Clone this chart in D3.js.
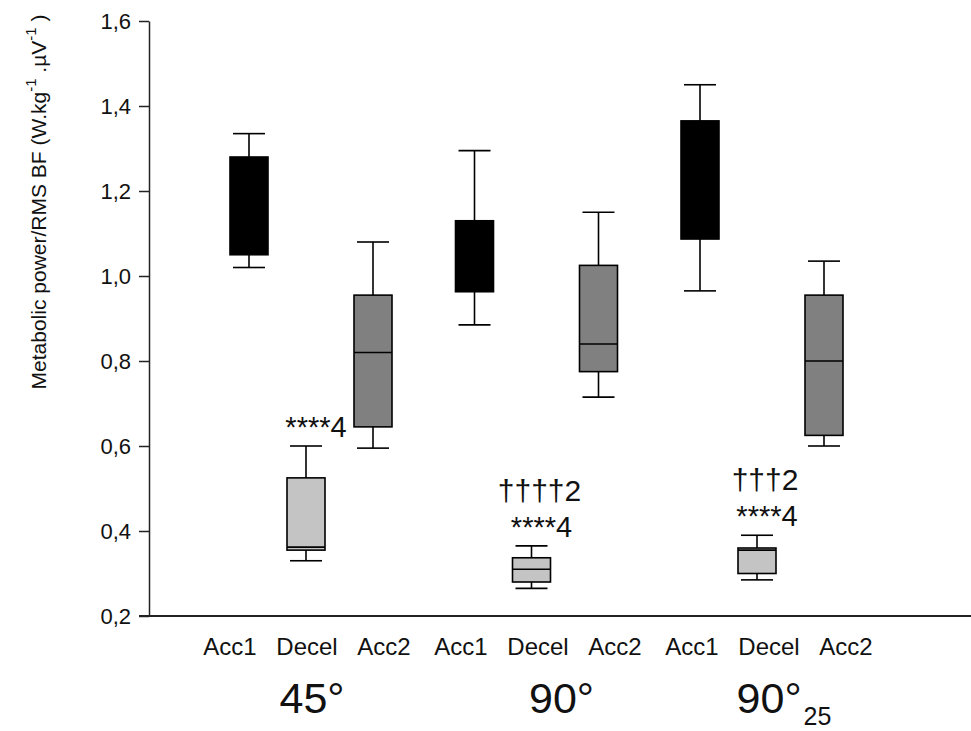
<!DOCTYPE html>
<html lang="en">
<head>
    <meta charset="UTF-8" />
    <title>Metabolic power / RMS BF</title>
    <script src="https://d3js.org/d3.v7.min.js"></script>
    <style>
        body { margin: 0; background: #fff; }
        text { font-family: "Liberation Sans", Arial, sans-serif; fill: #111; }
    </style>
</head>
<body>
    <div id="chart"></div>

    <script>
        // data
        const groups = ["45°", "90°", "90°25"]
        const phases = ["Acc1", "Decel", "Acc2"]

        // one value per box, order: 45° Acc1, Decel, Acc2, 90° ..., 90°25 ...
        const whiskerLow  = [1.02, 0.33, 0.595, 0.885, 0.265, 0.715, 0.965, 0.285, 0.60]
        const q1          = [1.05, 0.355, 0.645, 0.963, 0.28, 0.775, 1.087, 0.30, 0.625]
        const median      = [1.17, 0.362, 0.82, 1.04, 0.31, 0.84, 1.20, 0.355, 0.80]
        const q3          = [1.28, 0.525, 0.955, 1.13, 0.337, 1.025, 1.365, 0.36, 0.955]
        const whiskerHigh = [1.335, 0.60, 1.08, 1.295, 0.365, 1.15, 1.45, 0.39, 1.035]

        const yTicks = [0.2, 0.4, 0.6, 0.8, 1.0, 1.2, 1.4, 1.6]

        // significance marks over the Decel boxes (top line first)
        const marksGroup = ["45°", "90°", "90°25"]
        const marksDagger = ["", "††††2", "†††2"]
        const marksStar = ["****4", "****4", "****4"]

        const boxes = []
        groups.forEach((g, gi) => phases.forEach((p, pi) => {
            const i = gi * 3 + pi
            boxes.push({ group: g, phase: p, lo: whiskerLow[i], q1: q1[i], med: median[i], q3: q3[i], hi: whiskerHigh[i] })
        }))

        const width = 971
        const height = 731
        const axisX = 149
        const axisY = 616

        const fills = { Acc1: "#000000", Decel: "#c4c4c4", Acc2: "#808080" }

        const y = d3.scaleLinear()
            .domain([0.2, 1.6])
            .range([axisY, 21])

        // group centre = Decel box, Acc boxes offset around it
        const gx = d3.scalePoint()
            .domain(groups)
            .range([306, 757])
        const inner = d3.scaleOrdinal()
            .domain(phases)
            .range([-57, 0, 67])
        const boxX = d => gx(d.group) + inner(d.phase)

        const boxW = 38
        const capW = 32

        const svg = d3.select("#chart").append("svg")
            .attr("width", width)
            .attr("height", height)
            .attr("viewBox", [0, 0, width, height])

        // y axis
        svg.append("g")
            .attr("transform", `translate(${axisX},0)`)
            .call(d3.axisLeft(y)
                .tickValues(yTicks)
                .tickFormat(d => d3.format(".1f")(d).replace(".", ","))
                .tickSize(10)
                .tickPadding(8)
                .tickSizeOuter(0))
            .call(g => g.select(".domain").attr("stroke", "#222").attr("stroke-width", 1.5))
            .call(g => g.selectAll(".tick line").attr("stroke", "#222").attr("stroke-width", 1.5))
            .call(g => g.selectAll(".tick text")
                .attr("font-size", 22)
                .attr("font-family", "Liberation Sans, Arial, sans-serif")
                .attr("fill", "#111"))

        // bottom axis line
        svg.append("line")
            .attr("x1", axisX - 10)
            .attr("x2", width)
            .attr("y1", axisY)
            .attr("y2", axisY)
            .attr("stroke", "#222")
            .attr("stroke-width", 2)

        const box = svg.append("g")
            .attr("stroke", "#000")
            .attr("stroke-width", 1.6)
            .selectAll("g")
            .data(boxes)
            .join("g")

        // whisker stems
        box.append("line")
            .attr("x1", boxX).attr("x2", boxX)
            .attr("y1", d => y(d.hi)).attr("y2", d => y(d.lo))

        // caps
        box.selectAll(".cap")
            .data(d => [d.lo, d.hi].map(v => ({ x: boxX(d), v })))
            .join("line")
            .attr("class", "cap")
            .attr("x1", d => d.x - capW / 2).attr("x2", d => d.x + capW / 2)
            .attr("y1", d => y(d.v)).attr("y2", d => y(d.v))

        box.append("rect")
            .attr("x", d => boxX(d) - boxW / 2)
            .attr("width", boxW)
            .attr("y", d => y(d.q3))
            .attr("height", d => y(d.q1) - y(d.q3))
            .attr("fill", d => fills[d.phase])

        box.append("line")
            .attr("x1", d => boxX(d) - boxW / 2).attr("x2", d => boxX(d) + boxW / 2)
            .attr("y1", d => y(d.med)).attr("y2", d => y(d.med))

        // significance marks, stacked above the upper whisker of the Decel box
        const decel = boxes.filter(d => d.phase === "Decel")
        marksGroup.forEach((g, i) => {
            const d = decel.find(b => b.group === g)
            const cx = boxX(d) + 10
            const base = y(d.hi) - 9
            svg.append("text")
                .attr("x", cx)
                .attr("y", base)
                .attr("text-anchor", "middle")
                .attr("font-size", 29)
                .text(marksStar[i])
            if (marksDagger[i]) {
                svg.append("text")
                    .attr("x", cx - 2)
                    .attr("y", base - 36)
                    .attr("text-anchor", "middle")
                    .attr("font-family", "Liberation Serif, Times New Roman, serif")
                    .attr("font-size", 30)
                    .text(marksDagger[i])
            }
        })

        // phase labels under the axis, evenly spaced
        const labels = groups.flatMap(g => phases.map(p => `${g}|${p}`))
        const lx = d3.scalePoint()
            .domain(labels)
            .range([230, 846])
        svg.append("g")
            .selectAll("text")
            .data(labels)
            .join("text")
            .attr("x", d => lx(d))
            .attr("y", 655)
            .attr("text-anchor", "middle")
            .attr("font-size", 24)
            .text(d => d.split("|")[1])

        // group labels
        const groupDx = [6, 30, 27]
        const gl = svg.append("g")
            .selectAll("text")
            .data(groups)
            .join("text")
            .attr("x", (d, i) => gx(d) + groupDx[i])
            .attr("y", 713)
            .attr("text-anchor", "middle")
            .attr("font-size", 43)
        gl.append("tspan").text(d => d.slice(0, 3))
        gl.filter(d => d.length > 3)
            .append("tspan")
            .attr("font-size", 25)
            .attr("dy", 12)
            .attr("dx", 2)
            .text(d => d.slice(3))

        // y title
        const title = svg.append("text")
            .attr("transform", `translate(46,${(17 + 387) / 2}) rotate(-90)`)
            .attr("text-anchor", "middle")
            .attr("font-size", 21)
        title.append("tspan").text("Metabolic power/RMS BF (W.kg")
        title.append("tspan").attr("font-size", 15).attr("dy", -10).text("-1")
        title.append("tspan").attr("dy", 10).text(" .µV")
        title.append("tspan").attr("font-size", 15).attr("dy", -10).text("-1")
        title.append("tspan").attr("dy", 10).text(" )")
    </script>
</body>
</html>
